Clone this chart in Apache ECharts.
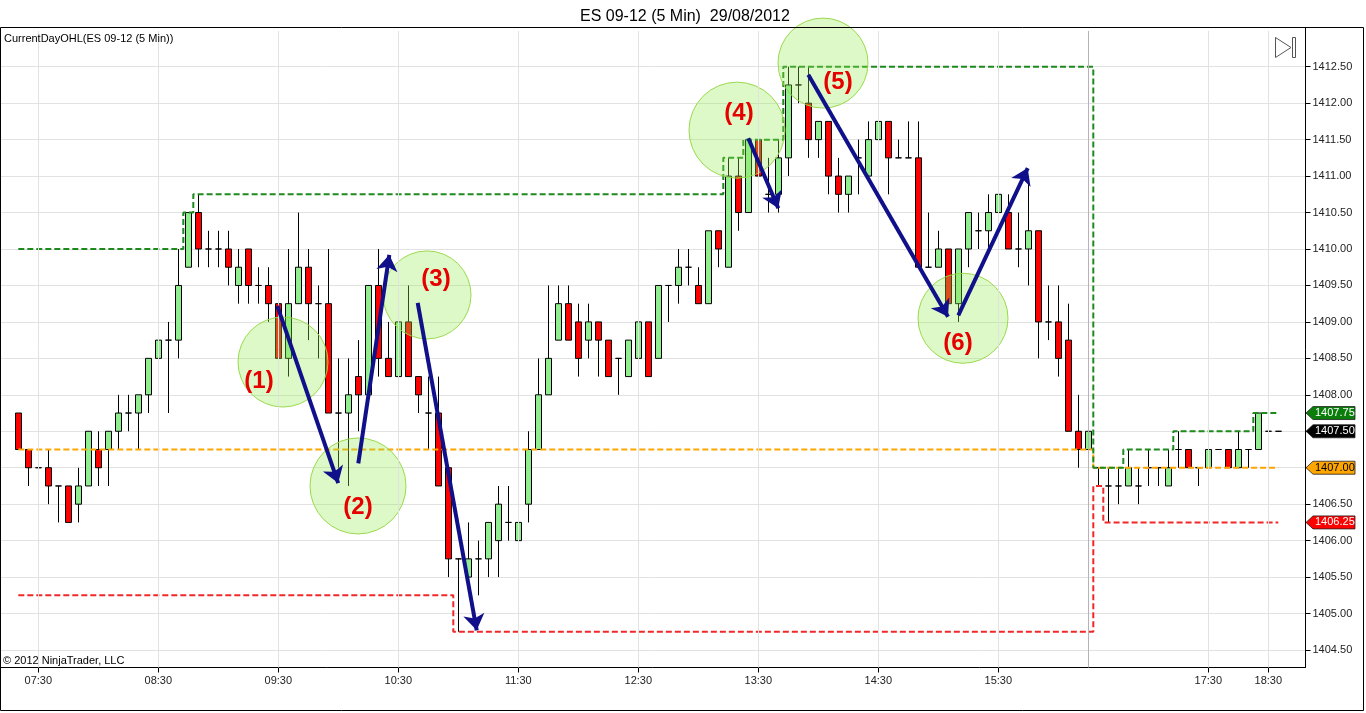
<!DOCTYPE html>
<html><head><meta charset="utf-8">
<script src="https://cdn.jsdelivr.net/npm/echarts@6/dist/echarts.min.js"></script>
<style>html,body{margin:0;padding:0;background:#fff}#c{width:1366px;height:713px}</style>
</head><body><div id="c"></div>
<script>
// ---------- DATA ----------
const times = [
 '07:20','07:25','07:30','07:35','07:40','07:45','07:50','07:55',
 '08:00','08:05','08:10','08:15','08:20','08:25','08:30','08:35','08:40','08:45','08:50','08:55',
 '09:00','09:05','09:10','09:15','09:20','09:25','09:30','09:35','09:40','09:45','09:50','09:55',
 '10:00','10:05','10:10','10:15','10:20','10:25','10:30','10:35','10:40','10:45','10:50','10:55',
 '11:00','11:05','11:10','11:15','11:20','11:25','11:30','11:35','11:40','11:45','11:50','11:55',
 '12:00','12:05','12:10','12:15','12:20','12:25','12:30','12:35','12:40','12:45','12:50','12:55',
 '13:00','13:05','13:10','13:15','13:20','13:25','13:30','13:35','13:40','13:45','13:50','13:55',
 '14:00','14:05','14:10','14:15','14:20','14:25','14:30','14:35','14:40','14:45','14:50','14:55',
 '15:00','15:05','15:10','15:15','15:20','15:25','15:30','15:35','15:40','15:45','15:50','15:55',
 '16:00','16:05','16:10','16:15',
 '16:35','16:40','16:45','16:50','16:55','17:00','17:05','17:10','17:15','17:20','17:25','17:30',
 '17:40','17:50','18:00','18:10','18:20','18:30','18:35'
];
const open = [
 1407.75,1407.25,1407.0,1407.0,1406.75,1406.75,1406.5,1406.75,1407.25,1407.25,
 1407.5,1407.75,1407.75,1408.0,1408.5,1408.75,1408.75,1409.75,1410.5,1410.0,
 1410.0,1410.0,1409.5,1410.0,1409.5,1409.5,1409.25,1408.5,1409.25,1409.75,
 1409.25,1409.25,1407.75,1407.75,1408.25,1408.0,1409.5,1408.5,1408.25,1409.0,
 1408.25,1407.75,1407.75,1407.0,1405.75,1405.5,1405.75,1405.75,1406.0,1406.25,
 1406.0,1406.5,1407.25,1408.0,1408.75,1409.25,1409.0,1408.75,1409.0,1408.75,
 1408.5,1408.25,1408.5,1409.0,1408.5,1409.5,1409.5,1409.75,1409.5,1409.25,
 1410.25,1409.75,1411.0,1410.5,1411.5,1410.75,1410.75,1411.25,1412.25,1412.0,
 1411.5,1411.75,1411.0,1410.75,1411.25,1411.0,1411.5,1411.75,1411.25,1411.25,
 1411.25,1409.75,1409.75,1410.0,1409.25,1410.0,1410.25,1410.25,1410.5,1410.5,
 1410.0,1410.0,1410.25,1409.0,1409.0,1408.75,1407.5,1407.25,
 1407.0,1406.75,1406.75,1406.75,1406.75,1407.0,1407.0,1406.75,1407.25,1407.25,
 1407.0,1407.0,1407.25,1407.25,1407.0,1407.25,1407.25,1407.5,1407.5
];
const high = [
 1407.75,1407.25,1407.5,1407.25,1406.75,1406.75,1407.0,1407.5,1407.5,1407.5,
 1408.0,1408.0,1408.0,1408.5,1409.0,1409.0,1410.0,1410.5,1410.75,1410.25,
 1410.25,1410.25,1410.0,1410.0,1409.75,1409.75,1409.25,1410.0,1410.5,1410.0,
 1409.5,1410.0,1408.5,1408.5,1408.75,1409.5,1410.0,1409.0,1409.5,1409.5,
 1408.25,1408.25,1408.25,1407.0,1405.75,1406.25,1406.0,1406.25,1406.75,1406.75,
 1406.75,1407.5,1408.5,1409.5,1409.5,1409.5,1409.25,1409.25,1409.0,1408.75,
 1408.5,1408.75,1409.0,1409.0,1409.5,1409.5,1410.0,1410.0,1409.75,1410.25,
 1410.25,1411.25,1411.25,1411.5,1411.5,1411.25,1411.5,1412.5,1412.5,1412.5,
 1411.75,1411.75,1411.25,1411.0,1411.5,1411.75,1411.75,1411.75,1411.5,1411.75,
 1411.75,1410.5,1410.25,1410.0,1410.0,1410.5,1410.5,1410.75,1410.75,1410.75,
 1410.5,1411.0,1410.25,1409.5,1409.5,1409.25,1408.0,1407.75,
 1407.0,1407.0,1407.0,1407.25,1407.0,1407.25,1407.0,1407.25,1407.5,1407.25,
 1407.0,1407.25,1407.25,1407.25,1407.5,1407.25,1407.75,1407.75,1407.5
];
const low = [
 1407.25,1406.75,1406.75,1406.5,1406.25,1406.25,1406.25,1406.75,1406.75,1406.75,
 1407.25,1407.5,1407.25,1407.75,1408.25,1407.75,1408.5,1409.75,1409.75,1409.75,
 1409.75,1409.5,1409.25,1409.25,1409.25,1409.0,1408.5,1408.25,1409.25,1408.75,
 1408.5,1407.75,1407.0,1406.75,1407.5,1408.0,1408.25,1408.25,1408.25,1408.25,
 1407.75,1407.25,1406.75,1405.5,1404.75,1405.5,1405.25,1405.5,1405.5,1406.0,
 1405.75,1406.25,1407.25,1408.0,1408.75,1408.75,1408.25,1408.5,1408.25,1408.25,
 1408.0,1408.25,1408.5,1408.25,1408.5,1409.0,1409.25,1409.5,1409.25,1409.25,
 1409.75,1409.75,1410.25,1410.5,1410.75,1410.5,1410.5,1411.0,1412.0,1411.25,
 1411.25,1410.75,1410.5,1410.5,1410.75,1411.0,1411.25,1410.75,1411.25,1411.25,
 1409.75,1409.75,1409.75,1409.25,1409.0,1409.75,1410.0,1410.0,1410.0,1410.0,
 1409.75,1409.5,1408.5,1408.75,1408.25,1407.5,1407.0,1407.0,
 1406.75,1406.25,1406.5,1406.75,1406.5,1406.75,1406.75,1406.75,1407.0,1407.0,
 1406.75,1406.75,1407.25,1407.0,1407.0,1407.0,1407.25,1407.5,1407.5
];
const close = [
 1407.25,1407.0,1407.0,1406.75,1406.75,1406.25,1406.75,1407.5,1407.0,1407.5,
 1407.75,1407.75,1408.0,1408.5,1408.75,1408.75,1409.5,1410.5,1410.0,1410.0,
 1410.0,1409.75,1409.75,1409.5,1409.5,1409.25,1408.5,1409.25,1409.75,1409.25,
 1409.25,1407.75,1407.75,1408.0,1408.0,1409.5,1408.5,1408.25,1409.0,1408.25,
 1408.0,1407.75,1406.75,1405.75,1405.75,1405.75,1405.75,1406.25,1406.5,1406.25,
 1406.25,1407.25,1408.0,1408.5,1409.25,1408.75,1408.5,1409.0,1408.75,1408.25,
 1408.5,1408.75,1409.0,1408.25,1409.5,1409.5,1409.75,1409.75,1409.25,1410.25,
 1410.0,1411.0,1410.5,1411.5,1411.0,1410.75,1411.25,1412.25,1412.25,1411.5,
 1411.75,1411.0,1410.75,1411.0,1411.25,1411.5,1411.75,1411.25,1411.25,1411.25,
 1409.75,1409.75,1410.0,1409.25,1410.0,1410.5,1410.25,1410.5,1410.75,1410.0,
 1410.0,1410.25,1409.0,1409.0,1408.5,1407.5,1407.25,1407.5,
 1407.0,1406.75,1406.75,1407.0,1406.75,1407.0,1407.0,1407.0,1407.25,1407.0,
 1407.0,1407.25,1407.25,1407.0,1407.25,1407.25,1407.75,1407.5,1407.5
];
const sessionStarts = [0, 108];
const sessionBreakBar = 107;
// session 1 began before the visible window: its levels at the first visible bar
const priorHigh = 1410.0, priorLow = 1405.25, priorOpen = 1407.25;

// hand-drawn annotations, in (bar index, price)
const circleCenters = [[26.47,1408.45],[33.97,1406.75],[40.87,1409.37],[71.87,1411.63],[80.47,1412.55],[94.47,1409.05]];
const noteTexts = ['(1)','(2)','(3)','(4)','(5)','(6)'];
const notePoints = [[24.07,1408.19],[33.97,1406.46],[41.77,1409.59],[72.07,1411.865],[81.97,1412.29],[93.97,1408.71]];
const arrowLines = [
 [25.9,1409.22,31.99,1406.79],
 [34.0,1407.06,37.1,1409.92],
 [39.94,1409.26,45.84,1404.77],
 [73.0,1411.52,76.0,1410.56],
 [79.0,1412.39,92.97,1409.07],
 [94.0,1409.09,100.94,1411.11]
];

// ---------- STYLE ----------
const FONT = 'Arial, "Liberation Sans", sans-serif';
const circleSizes = [90, 96, 88, 96, 90, 90];

// ---------- DERIVED ----------
const hiLine = [], loLine = [], opLine = [];
let h, l, o;
for (let i = 0; i < times.length; i++) {
  if (i === 0) { h = priorHigh; l = priorLow; o = priorOpen; }
  else if (sessionStarts.includes(i)) { h = -Infinity; l = Infinity; o = open[i]; }
  h = Math.max(h, high[i]); l = Math.min(l, low[i]);
  hiLine.push([i, h]); loLine.push([i, l]); opLine.push([i, o]);
}
const labelIdx = times.map((t, i) => t.endsWith(':30') ? i : -1).filter(i => i >= 0);
const candles = times.map((t, i) => [i, open[i], close[i], low[i], high[i]]);

const chart = echarts.init(document.getElementById('c'), null, {renderer: 'canvas'});
const stepStyle = (c) => ({ type: 'line', step: 'middle', showSymbol: false, symbol: 'none', silent: true, z: 3,
  lineStyle: { color: c, width: 2, type: [6, 3] } });

chart.setOption({
  animation: false,
  textStyle: { fontFamily: FONT },
  title: { text: 'ES 09-12 (5 Min)  29/08/2012', left: 575, top: 4,
    textStyle: { fontSize: 16, fontWeight: 'normal', color: '#000', fontFamily: FONT } },
  grid: { left: 0, right: 60.5, top: 31, bottom: 45.5, containLabel: false },
  xAxis: {
    type: 'value', min: -1.83, max: 128.72,
    axisLine: { show: true, onZero: false, lineStyle: { color: '#000', width: 1 } },
    axisTick: { show: true, customValues: labelIdx, length: 5, lineStyle: { color: '#000' } },
    axisLabel: { customValues: labelIdx, margin: 8, fontSize: 11, color: '#222', fontFamily: FONT,
      formatter: v => (Number.isInteger(v) && labelIdx.includes(v)) ? times[v] : '' },
    splitLine: { show: false }
  },
  yAxis: {
    type: 'value', position: 'right', min: 1404.26, max: 1412.99, scale: true,
    minInterval: 0.5, maxInterval: 0.5, splitNumber: 17,
    axisLine: { show: true, onZero: false, lineStyle: { color: '#000', width: 1 } },
    axisTick: { show: true, length: 5, lineStyle: { color: '#000' } },
    axisLabel: { showMinLabel: false, showMaxLabel: false, margin: 7, fontSize: 11, color: '#222', fontFamily: FONT,
      formatter: v => v.toFixed(2) },
    splitLine: { show: true, showMinLine: false, showMaxLine: false, lineStyle: { color: '#e2e2e2', width: 1 } }
  },
  series: [
    { type: 'line', data: [], silent: true, z: 1,
      markLine: { silent: true, symbol: ['none', 'none'], label: { show: false }, animation: false,
        data: labelIdx.map(i => ({ xAxis: i, lineStyle: { color: '#e2e2e2', width: 1, type: 'solid' } }))
          .concat([{ xAxis: sessionBreakBar, lineStyle: { color: '#b4b4b4', width: 1, type: 'solid' } }]) } },
    { type: 'candlestick', data: candles, encode: { x: 0, y: [1, 2, 3, 4] }, barWidth: 7, z: 2, silent: true,
      itemStyle: { color: '#90ee90', color0: '#ff0000', borderColor: '#000', borderColor0: '#000',
        borderColorDoji: '#000', borderWidth: 1 } },
    Object.assign(stepStyle('#ffa500'), { data: opLine }),
    Object.assign(stepStyle('#1e8a1e'), { data: hiLine }),
    Object.assign(stepStyle('#f02828'), { data: loLine }),
    { type: 'scatter', data: circleCenters, clip: false, silent: true, z: 4,
      symbolSize: (v, p) => circleSizes[p.dataIndex],
      itemStyle: { color: 'rgba(150,235,80,0.32)', borderColor: 'rgba(150,215,70,0.95)', borderWidth: 1, opacity: 1 } },
    { type: 'line', data: [], silent: true, z: 5,
      markLine: { silent: true, symbol: ['none', 'arrow'], symbolSize: 16, label: { show: false }, animation: false,
        lineStyle: { color: '#10108a', width: 4, type: 'solid' },
        data: arrowLines.map(a => [{ coord: [a[0], a[1]] }, { coord: [a[2], a[3]] }]) } },
    { type: 'scatter', data: notePoints, clip: false, silent: true, z: 6, symbolSize: 2,
      itemStyle: { color: 'rgba(0,0,0,0)' },
      label: { show: true, position: 'inside', formatter: p => noteTexts[p.dataIndex], opacity: 1,
        fontSize: 24, fontWeight: 'bold', color: '#e60000', textBorderWidth: 0, fontFamily: FONT } }
  ]
});

// ---------- OVERLAY GRAPHICS (price tags, frame, captions) ----------
const yPix = v => chart.convertToPixel({ yAxisIndex: 0 }, v);
const last = times.length - 1;
const tags = [
  { v: hiLine[last][1], bg: '#0b7d0b', fg: '#fff' },
  { v: close[last], bg: '#000', fg: '#fff' },
  { v: opLine[last][1], bg: '#ffa500', fg: '#000' },
  { v: loLine[last][1], bg: '#ff0000', fg: '#fff' }
];
const g = [];
tags.forEach(t => {
  const yc = yPix(t.v);
  g.push({ type: 'polygon', z: 100, shape: { points: [[1306, yc], [1313, yc - 6.5], [1355, yc - 6.5], [1355, yc + 6.5], [1313, yc + 6.5]] },
    style: { fill: t.bg, stroke: '#222', lineWidth: 0.8 } });
  g.push({ type: 'text', z: 101, x: 1315, y: yc, style: { text: t.v.toFixed(2), fill: t.fg, font: '11px ' + FONT, textVerticalAlign: 'middle', verticalAlign: 'middle' } });
});
g.push({ type: 'rect', z: 90, shape: { x: 0.5, y: 27.5, width: 1363, height: 683 }, style: { fill: 'none', stroke: '#000', lineWidth: 1 } });
g.push({ type: 'line', z: 90, shape: { x1: 1305.5, y1: 27, x2: 1305.5, y2: 32 }, style: { stroke: '#000', lineWidth: 1 } });
g.push({ type: 'text', z: 90, x: 4, y: 39, style: { text: 'CurrentDayOHL(ES 09-12 (5 Min))', fill: '#000', font: '11px ' + FONT, verticalAlign: 'middle', textVerticalAlign: 'middle' } });
g.push({ type: 'text', z: 90, x: 3, y: 661, style: { text: '\u00a9 2012 NinjaTrader, LLC', fill: '#000', font: '11px ' + FONT, verticalAlign: 'middle', textVerticalAlign: 'middle' } });
g.push({ type: 'polygon', z: 90, shape: { points: [[1275.5, 37.5], [1291, 47.5], [1275.5, 57.5]] }, style: { fill: 'none', stroke: '#555', lineWidth: 1 } });
g.push({ type: 'rect', z: 90, shape: { x: 1292.5, y: 37.5, width: 3, height: 20 }, style: { fill: 'none', stroke: '#555', lineWidth: 1 } });
chart.setOption({ graphic: g });
</script>
</body></html>
